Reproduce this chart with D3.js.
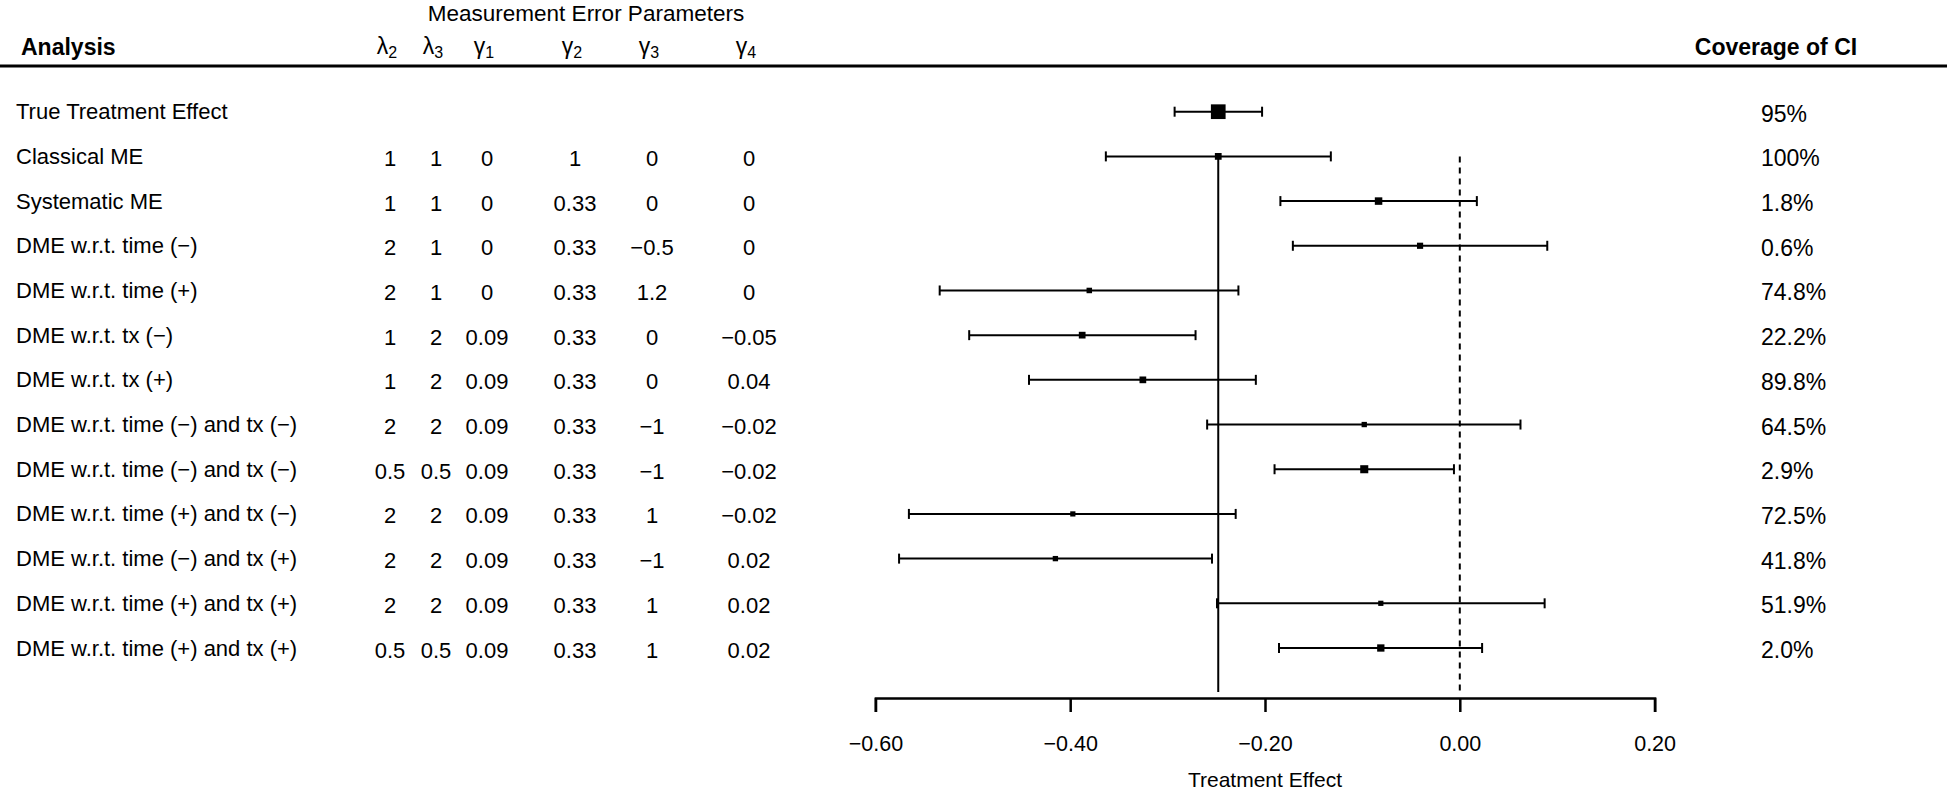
<!DOCTYPE html>
<html><head><meta charset="utf-8">
<script src="https://cdn.jsdelivr.net/npm/d3@7"></script>
<style>body{margin:0;background:#fff;} text{font-family:"Liberation Sans",Arial,sans-serif;fill:#000;}</style>
</head><body>
<svg id="c" width="1947" height="793"></svg>
<script>
const analyses = ["True Treatment Effect","Classical ME","Systematic ME","DME w.r.t. time (\u2212)","DME w.r.t. time (+)","DME w.r.t. tx (\u2212)","DME w.r.t. tx (+)","DME w.r.t. time (\u2212) and tx (\u2212)","DME w.r.t. time (\u2212) and tx (\u2212)","DME w.r.t. time (+) and tx (\u2212)","DME w.r.t. time (\u2212) and tx (+)","DME w.r.t. time (+) and tx (+)","DME w.r.t. time (+) and tx (+)"];
const lambda2 = ["","1","1","2","2","1","1","2","0.5","2","2","2","0.5"];
const lambda3 = ["","1","1","1","1","2","2","2","0.5","2","2","2","0.5"];
const gamma1 = ["","0","0","0","0","0.09","0.09","0.09","0.09","0.09","0.09","0.09","0.09"];
const gamma2 = ["","1","0.33","0.33","0.33","0.33","0.33","0.33","0.33","0.33","0.33","0.33","0.33"];
const gamma3 = ["","0","0","\u22120.5","1.2","0","0","\u22121","\u22121","1","\u22121","1","1"];
const gamma4 = ["","0","0","0","0","\u22120.05","0.04","\u22120.02","\u22120.02","\u22120.02","0.02","0.02","0.02"];
const estimate = [-0.248,-0.248,-0.0834,-0.0408,-0.3804,-0.3877,-0.3254,-0.0981,-0.0981,-0.3973,-0.4152,-0.0811,-0.0811];
const lower = [-0.2928,-0.3634,-0.1842,-0.1714,-0.534,-0.5037,-0.4423,-0.2594,-0.1902,-0.5656,-0.5757,-0.2493,-0.1856];
const upper = [-0.203,-0.1324,0.0175,0.0898,-0.2273,-0.2713,-0.2094,0.0623,-0.006,-0.2301,-0.2544,0.0871,0.0229];
const coverage = ["95%","100%","1.8%","0.6%","74.8%","22.2%","89.8%","64.5%","2.9%","72.5%","41.8%","51.9%","2.0%"];
const xTicks = [-0.6,-0.4,-0.2,0,0.2];
const paramHeaders = [["\u03bb","2"],["\u03bb","3"],["\u03b3","1"],["\u03b3","2"],["\u03b3","3"],["\u03b3","4"]];
const paramCols = [lambda2,lambda3,gamma1,gamma2,gamma3,gamma4];

const svg = d3.select("#c");
const n = analyses.length;
const x = d3.scaleLinear().domain([-0.6,0.2]).range([875.4,1654.6]);
const y = d3.scaleLinear().domain([0,n-1]).range([111.7,648]);
const colCenters = [390,436,487,575,652,749];
const box = d3.scaleLinear().domain([3,11.1]).range([5.2,14.7]).clamp(true);
const fs = 22;

// header
svg.append("text").attr("x",586).attr("y",21).attr("text-anchor","middle")
  .style("font-size","22.5px").text("Measurement Error Parameters");
svg.append("text").attr("x",21).attr("y",47).attr("dominant-baseline","central")
  .style("font-size","23px").style("font-weight","bold").text("Analysis");
svg.append("text").attr("x",1776).attr("y",47).attr("text-anchor","middle").attr("dominant-baseline","central")
  .style("font-size","23px").style("font-weight","bold").text("Coverage of CI");
paramHeaders.forEach((h,i)=>{
  const t = svg.append("text").attr("x",colCenters[i]-3).attr("y",54).attr("text-anchor","middle").style("font-size","23px");
  t.append("tspan").text(h[0]);
  t.append("tspan").attr("dy",4).style("font-size","16px").text(h[1]);
});
svg.append("line").attr("x1",0).attr("x2",1947).attr("y1",66).attr("y2",66).attr("stroke","#000").attr("stroke-width",3);

// table text
const rows = svg.append("g");
analyses.forEach((a,i)=>{
  rows.append("text").attr("x",16).attr("y",y(i)).attr("dominant-baseline","central").style("font-size",fs+"px").text(a);
  paramCols.forEach((col,j)=>{
    if(col[i]) rows.append("text").attr("x",colCenters[j]).attr("y",y(i)+2).attr("text-anchor","middle").attr("dominant-baseline","central").style("font-size",fs+"px").text(col[i]);
  });
  rows.append("text").attr("x",1761).attr("y",y(i)+2).attr("dominant-baseline","central").style("font-size","23px").text(coverage[i]);
});

// reference lines
svg.append("line").attr("x1",x(estimate[0])).attr("x2",x(estimate[0])).attr("y1",y(1)).attr("y2",692)
  .attr("stroke","#000").attr("stroke-width",2);
svg.append("line").attr("x1",x(0)).attr("x2",x(0)).attr("y1",y(1)).attr("y2",692)
  .attr("stroke","#000").attr("stroke-width",2).attr("stroke-dasharray","6,5");

// CIs
const g = svg.append("g");
d3.range(n).forEach(i=>{
  const yy = y(i);
  g.append("line").attr("x1",x(lower[i])).attr("x2",x(upper[i])).attr("y1",yy).attr("y2",yy).attr("stroke","#000").attr("stroke-width",2);
  [lower[i],upper[i]].forEach(v=>g.append("line").attr("x1",x(v)).attr("x2",x(v)).attr("y1",yy-5).attr("y2",yy+5).attr("stroke","#000").attr("stroke-width",2));
  const s = box(1/(upper[i]-lower[i]));
  g.append("rect").attr("x",x(estimate[i])-s/2).attr("y",yy-s/2).attr("width",s).attr("height",s).attr("fill","#000");
});

// axis
const ax = svg.append("g").attr("transform","translate(0,698)")
  .call(d3.axisBottom(x).tickValues(xTicks).tickFormat(d3.format(".2f")).tickSize(14).tickPadding(24));
ax.select(".domain").attr("stroke-width",2.5);
ax.selectAll(".tick line").attr("stroke-width",2.5);
ax.selectAll(".tick text").style("font-size","21.5px").style("font-family","Liberation Sans, Arial, sans-serif");
svg.append("text").attr("x",x(-0.2)).attr("y",787).attr("text-anchor","middle")
  .style("font-size","21px").text("Treatment Effect");
</script>
</body></html>
